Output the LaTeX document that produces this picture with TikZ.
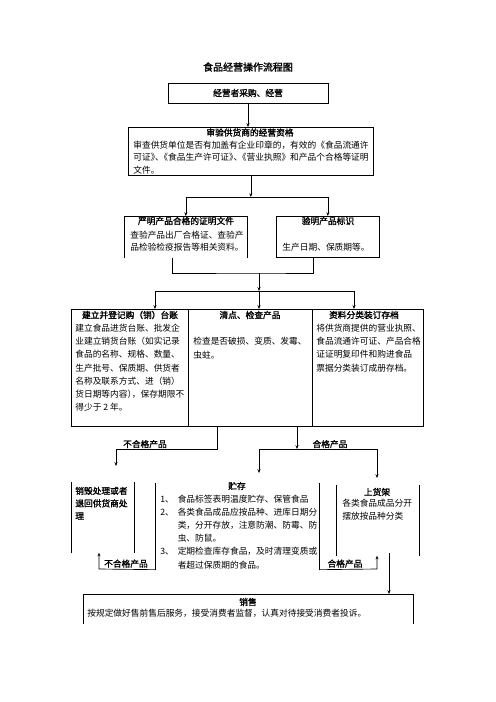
\documentclass[tikz,border=0pt]{standalone}
\usepackage{fontspec}
\setmainfont{Noto Sans CJK SC}[BoldFont={Noto Sans CJK SC},BoldFeatures={FakeBold=1.6}]
\usetikzlibrary{arrows.meta}

\newcommand\pxl{0.4234mm}
\newcommand\bodysize{\fontsize{10.5}{15.8}\selectfont}
\newcommand\pk{\kern-0.5em}

\begin{document}
\begin{tikzpicture}[>={Stealth[length=4.5pt,width=3.6pt]},x=0.4234mm,y=-0.4234mm,line width=0.8pt,
  panel/.style={rectangle,inner sep=0pt,anchor=north west},
  head/.style={font=\bodysize\bfseries,inner sep=0pt},
  body/.style={font=\bodysize,inner sep=0pt,anchor=north west,align=left}]

  \useasboundingbox (0,0) rectangle (496,702);

  \node[font=\fontsize{12}{14}\selectfont\bfseries] (title) at (248,67) {食品经营操作流程图};

  % purchase and supplier check
  \node[draw,head,minimum width=160*\pxl,minimum height=20*\pxl] (buy) at (248,93) {经营者采购、经营};
  \node[draw,panel,minimum width=245*\pxl,minimum height=48*\pxl] (qual) at (128,127) {};
  \node[head] (qualhead) at (250,132.5) {审验供货商的经营资格};
  \node[body,font=\fontsize{10.5}{15}\selectfont] (qualtxt) at (133,140.5)
    {审查供货单位是否有加盖有企业印章的，有效的《食品流通许\\
     可证》\pk、\pk《食品生产许可证》\pk、\pk《营业执照》和产品个合格等证明\\
     文件。};
  \draw[->] (buy.south) -- (buy.south |- qual.north);

  % two checks
  \node[panel,minimum width=123*\pxl,minimum height=41*\pxl] (cert) at (124,216) {};
  \draw (cert.south west) -- (cert.north west) -- (cert.north east) -- (cert.south east);
  \node[head] (certhead) at (186,221) {严明产品合格的证明文件};
  \node[body,font=\fontsize{10.5}{15.2}\selectfont] (certtxt) at (130,230.5)
    {查验产品出厂合格证、查验产\\品检验检疫报告等相关资料。};
  \node[draw,panel,minimum width=103*\pxl,minimum height=41*\pxl] (mark) at (276,216) {};
  \node[head] (markhead) at (328,221) {验明产品标识};
  \node[font=\bodysize,inner sep=0pt] (marktxt) at (326,247) {生产日期、保质期等。};

  \coordinate (fork) at (251,197);
  \draw[->] (qual.south) -- (qual.south |- fork);
  \draw (cert.north |- fork) -- (mark.north |- fork);
  \draw[->] (cert.north |- fork) -- (cert.north);
  \draw[->] (mark.north |- fork) -- (mark.north);

  \coordinate (joinL) at (172,258);
  \coordinate (joinR) at (313,257);
  \coordinate (join) at (259,273);
  \draw (joinL) |- (join) -| (joinR);

  % three columns
  \node[draw,panel,minimum width=117*\pxl,minimum height=117*\pxl] (reg) at (71,309) {};
  \node[draw,panel,minimum width=124*\pxl,minimum height=117*\pxl] (chk) at (188,309) {};
  \node[draw,panel,minimum width=111*\pxl,minimum height=117*\pxl] (arc) at (312,309) {};

  \coordinate (spread) at (259,291);
  \coordinate (spreadL) at (155,291);
  \coordinate (spreadR) at (354,291);
  \draw[->] (join) -- (spread);
  \draw (spreadL) -- (spreadR);
  \draw[->] (spread) -- (spread |- chk.north);
  \draw[->] (spreadL) -- (spreadL |- reg.north);
  \draw[->] (spreadR) -- (spreadR |- arc.north);

  \node[head] (reghead) at (130,315) {建立并登记购（销）台账};
  \node[body] (regtxt) at (75,324)
    {建立食品进货台账、批发企\\
     业建立销货台账（如实记录\\
     食品的名称、规格、数量、\\
     生产批号、保质期、供货者\\
     名称及联系方式、进（销）\\
     货日期等内容）\pk，保存期限不\\
     得少于 2 年。};
  \node[head] (chkhead) at (250,315) {清点、检查产品};
  \node[body] (chktxt) at (193,337.2) {检查是否破损、变质、发霉、\\虫蛀。};
  \node[head] (archead) at (364,315) {资料分类装订存档};
  \node[body] (arctxt) at (316,324)
    {将供货商提供的营业执照、\\
     食品流通许可证、产品合格\\
     证证明复印件和购进食品\\
     票据分类装订成册存档。};

  % sorting
  \coordinate (rejA) at (217,449);
  \coordinate (rejB) at (116,449);
  \coordinate (rejEnd) at (116,466);
  \draw (reg.south -| rejA) -- (rejA) -- (rejB);
  \draw[->] (rejB) -- (rejEnd);
  \node[head,anchor=south] (rejlabel) at (145,448.5) {不合格产品};

  \coordinate (passA) at (297,449);
  \coordinate (passL) at (259,449);
  \coordinate (passR) at (377,449);
  \coordinate (passLEnd) at (259,473);
  \coordinate (passREnd) at (377,478);
  \draw[->] (chk.south -| passA) -- (passA);
  \draw (passL) -- (passR);
  \draw[->] (passL) -- (passLEnd);
  \draw[->] (passR) -- (passREnd);
  \node[head,anchor=south] (passlabel) at (330,448.5) {合格产品};

  % bottom row
  \node[panel,minimum width=63*\pxl,minimum height=70*\pxl] (dest) at (71,482) {};
  \draw (dest.north west) -- (dest.south west);
  \draw (dest.north east) -- (dest.south east);
  \node[body,font=\fontsize{10.5}{15.1}\selectfont\bfseries] (desttxt) at (75,486.5)
    {销毁处理或者\\退回供货商处\\理};

  \node[panel,minimum width=164*\pxl,minimum height=86*\pxl] (store) at (155,483) {};
  \draw (store.north west) -- (store.south west);
  \draw (store.north east) -- (store.south east);
  \node[head] (storehead) at (237,486) {贮存};
  \node[body] (storetxt) at (160,494.8)
    {\makebox[2em][l]{1、}食品标签表明温度贮存、保管食品\\
     \makebox[2em][l]{2、}各类食品成品应按品种、进库日期分\\
     \hspace*{2em}类，分开存放，注意防潮、防霉、防\\
     \hspace*{2em}虫、防鼠。\\
     \makebox[2em][l]{3、}定期检查库存食品，及时清理变质或\\
     \hspace*{2em}者超过保质期的食品。};

  \node[panel,minimum width=83*\pxl,minimum height=70*\pxl] (shelf) at (336,485) {};
  \draw (shelf.north west) -- (shelf.south west);
  \draw (shelf.north east) -- (shelf.south east);
  \node[head] (shelfhead) at (377,492) {上货架};
  \node[body,font=\fontsize{10.5}{15.1}\selectfont] (shelftxt) at (342,499)
    {各类食品成品分开\\摆放按品种分类};

  \coordinate (backL) at (99,569);
  \coordinate (backR) at (377,569);
  \draw[->] (store.south west) -- (backL) -- (backL |- dest.south);
  \draw[->] (store.south east) -- (backR) -- (backR |- shelf.south);
  \node[head,anchor=south] (backLlabel) at (126,568) {不合格产品};
  \node[head,anchor=south] (backRlabel) at (345,568) {合格产品};

  % sale
  \node[panel,minimum width=330*\pxl,minimum height=29*\pxl] (sell) at (83,594) {};
  \draw (sell.south west) -- (sell.north west) -- (sell.north east) -- (sell.south east);
  \node[head] (sellhead) at (248,602) {销售};
  \node[body] (selltxt) at (87,608.5)
    {按规定做好售前售后服务，接受消费者监督，认真对待接受消费者投诉。};
  \coordinate (sellIn) at (389,553);
  \draw[->] (sellIn) -- (sellIn |- sell.north);
\end{tikzpicture}
\end{document}
